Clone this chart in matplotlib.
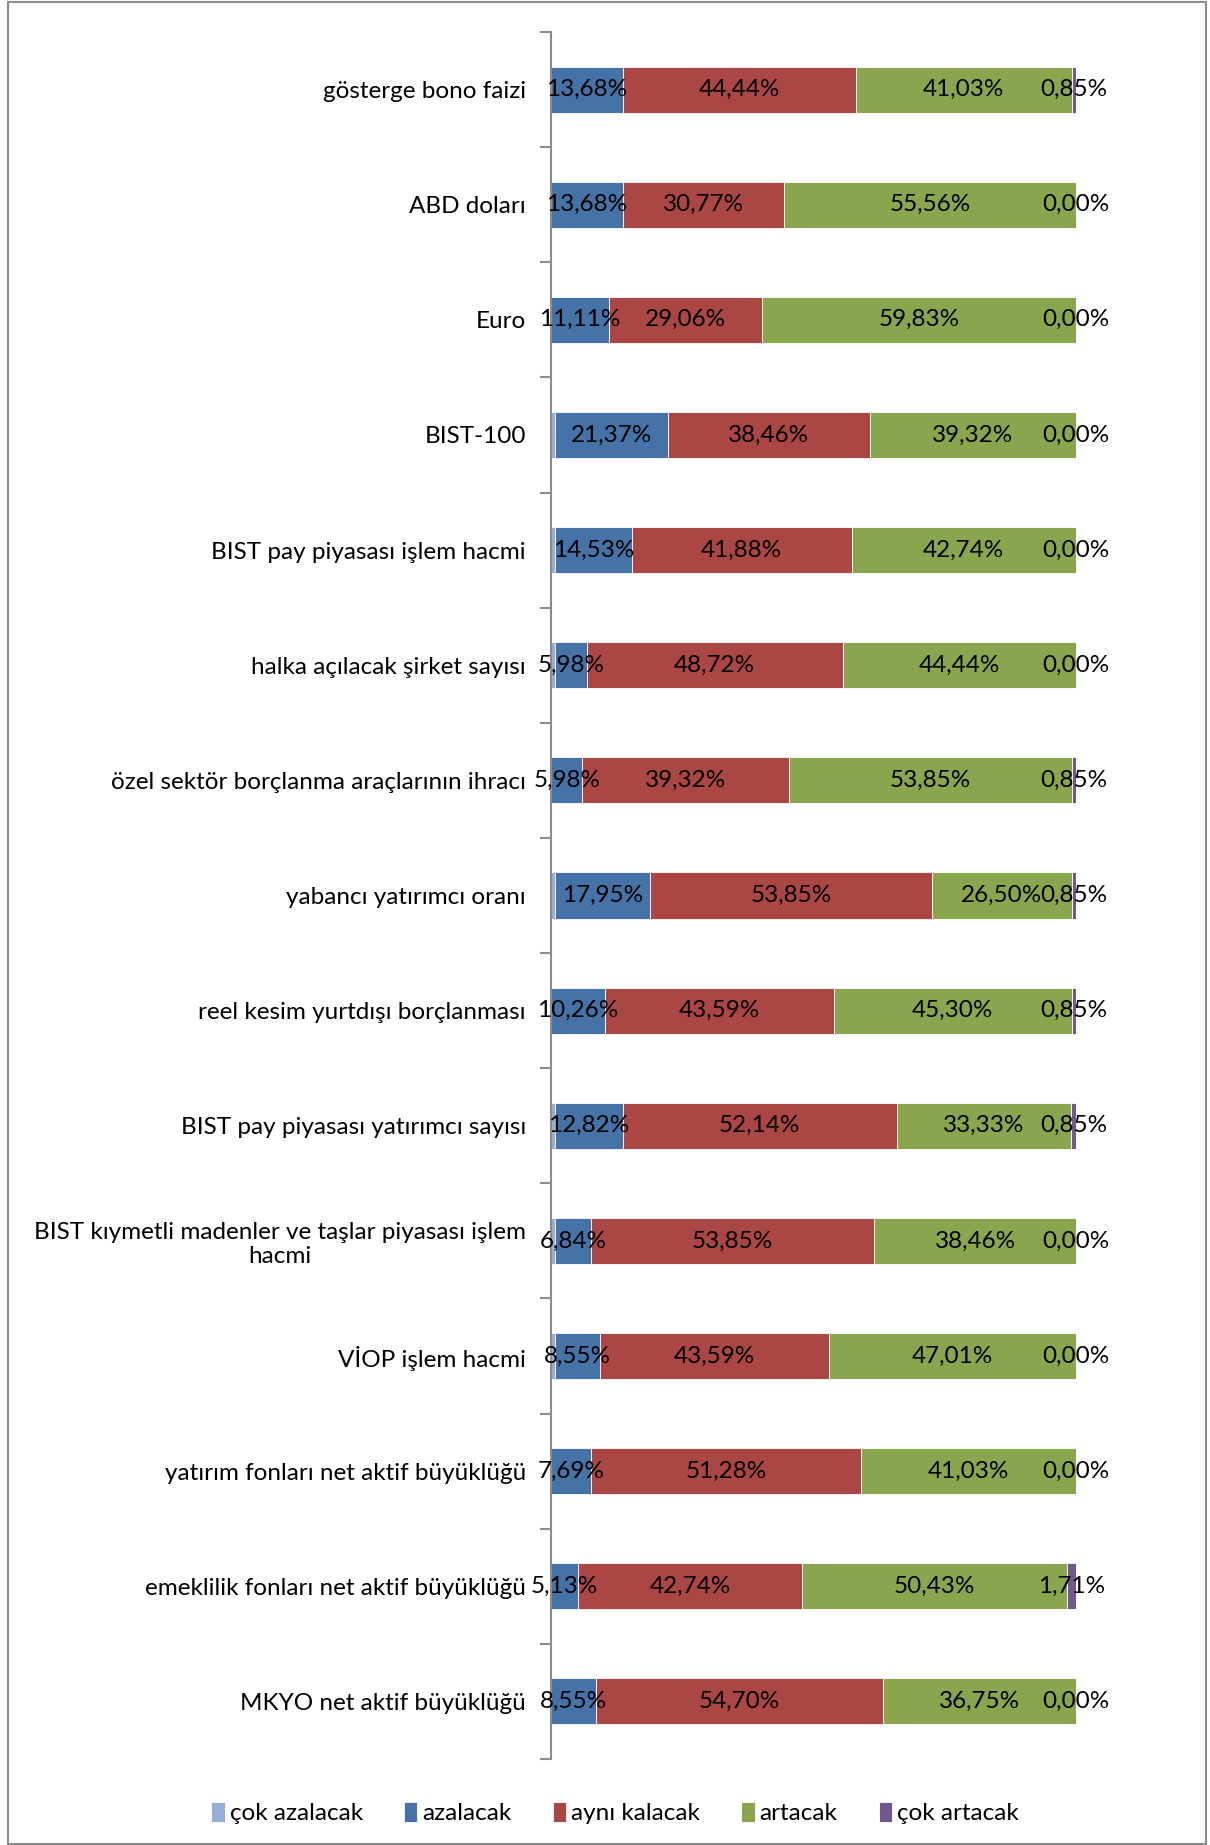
import matplotlib
matplotlib.use("Agg")
import matplotlib.pyplot as plt
from matplotlib.patches import Rectangle
import numpy as np

plt.rcParams['font.family'] = ['Lato', 'DejaVu Sans']

categories = [
    "gösterge bono faizi",
    "ABD doları",
    "Euro",
    "BIST-100",
    "BIST pay piyasası işlem hacmi",
    "halka açılacak şirket sayısı",
    "özel sektör borçlanma araçlarının ihracı",
    "yabancı yatırımcı oranı",
    "reel kesim yurtdışı borçlanması",
    "BIST pay piyasası yatırımcı sayısı",
    "BIST kıymetli madenler ve taşlar piyasası işlem\nhacmi",
    "VİOP işlem hacmi",
    "yatırım fonları net aktif büyüklüğü",
    "emeklilik fonları net aktif büyüklüğü",
    "MKYO net aktif büyüklüğü",
]

cok_azalacak = [0.00, 0.00, 0.00, 0.85, 0.85, 0.85, 0.00, 0.85, 0.00, 0.85, 0.85, 0.85, 0.00, 0.00, 0.00]
azalacak     = [13.68, 13.68, 11.11, 21.37, 14.53, 5.98, 5.98, 17.95, 10.26, 12.82, 6.84, 8.55, 7.69, 5.13, 8.55]
ayni_kalacak = [44.44, 30.77, 29.06, 38.46, 41.88, 48.72, 39.32, 53.85, 43.59, 52.14, 53.85, 43.59, 51.28, 42.74, 54.70]
artacak      = [41.03, 55.56, 59.83, 39.32, 42.74, 44.44, 53.85, 26.50, 45.30, 33.33, 38.46, 47.01, 41.03, 50.43, 36.75]
cok_artacak  = [0.85, 0.00, 0.00, 0.00, 0.00, 0.00, 0.85, 0.85, 0.85, 0.85, 0.00, 0.00, 0.00, 1.71, 0.00]

series_names = ["çok azalacak", "azalacak", "aynı kalacak", "artacak", "çok artacak"]
series = [cok_azalacak, azalacak, ayni_kalacak, artacak, cok_artacak]
colors = ["#95B0D8", "#4572A7", "#AA4643", "#89A54E", "#71588F"]
show_labels = [False, True, True, True, True]

W, H = 1210, 1845
fig = plt.figure(figsize=(W / 100, H / 100), dpi=100)
ax = fig.add_axes([551 / W, 1 - 1759 / H, (1076 - 551) / W, (1759 - 32) / H])

y = np.arange(len(categories))
left = np.zeros(len(categories))
handles = []
for name, vals, col, lab in zip(series_names, series, colors, show_labels):
    vals = np.array(vals)
    b = ax.barh(y, vals, left=left, height=0.4, color=col, edgecolor='white',
                linewidth=0.6, label=name)
    handles.append(b)
    if lab:
        for yi, (l, v) in enumerate(zip(left, vals)):
            txt = f"{v:.2f}".replace('.', ',') + "%"
            ax.text(l + v / 2, yi, txt, ha='center', va='center', fontsize=17.5, color='black')
    left = left + vals

ax.set_xlim(0, 100)
ax.set_ylim(len(categories) - 0.5, -0.5)
ax.set_yticks(y)
ax.set_yticklabels(categories, fontsize=17.5, multialignment='center')
ax.set_yticks(np.arange(-0.5, len(categories), 1.0), minor=True)
ax.tick_params(axis='y', which='major', length=0, pad=18)
ax.tick_params(axis='y', which='minor', length=8, width=1.5, color='#8C8C8C')
ax.set_xticks([])
for s in ['top', 'right', 'bottom']:
    ax.spines[s].set_visible(False)
ax.spines['left'].set_color('#8C8C8C')
ax.spines['left'].set_linewidth(1.5)

fig.legend(handles=handles, labels=series_names, loc='center', ncol=5,
           bbox_to_anchor=(615 / W, 1 - 1813 / H), frameon=False, fontsize=17.5,
           handlelength=0.55, handleheight=0.9, handletextpad=0.2, columnspacing=1.7)

fig.patches.append(Rectangle((8 / W, 1 / H), (1206 - 8) / W, (1843 - 1) / H,
                             transform=fig.transFigure, fill=False,
                             edgecolor='#8C8C8C', linewidth=1.5))

fig.savefig("out.png", dpi=100)
